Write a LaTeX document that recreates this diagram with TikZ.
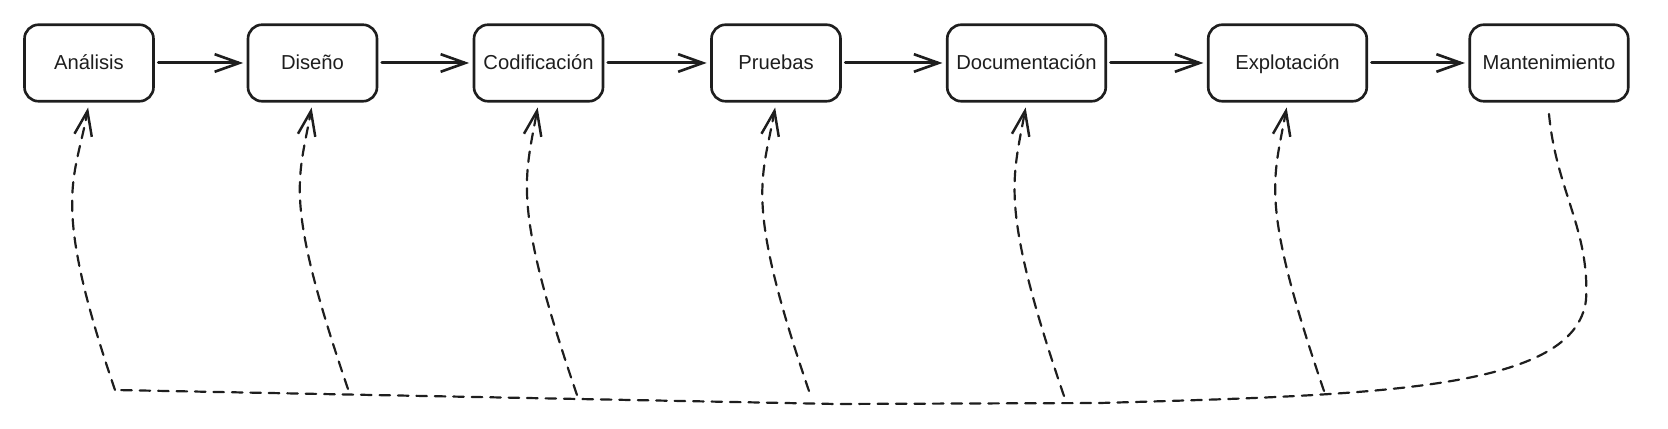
\documentclass[tikz,border=0pt]{standalone}
\usepackage{fontspec}
\setmainfont{Liberation Sans}
\usetikzlibrary{arrows.meta}
\definecolor{trazo}{HTML}{1E1E1E}

\tikzset{
  etapa/.style={draw=trazo, line width=1.5pt, rounded corners=8pt, minimum width=2.58cm,
    minimum height=1.53cm, inner sep=2pt, text height=1.9ex, text depth=0.5ex,
    font=\fontsize{11.5}{13}\selectfont, text=trazo},
  etapa ancha/.style={etapa, minimum width=3.17cm},
  flujo/.style={draw=trazo, line width=1.7pt, line cap=round,
    -{Straight Barb[length=14pt,width=10pt,line width=1.5pt]}, shorten <=2pt, shorten >=2pt},
  discontinua/.style={draw=trazo, line width=1.25pt, line cap=round, dash pattern=on 6pt off 4.5pt},
  retro/.style={discontinua,
    -{Straight Barb[length=14pt,width=10pt,line width=1.4pt]}, shorten >=0.1cm},
}

\begin{document}
\begin{tikzpicture}
\useasboundingbox (0,0) rectangle (33.36,8.58);

%etapas%%%%%%%%%%%%%%%%%%%%%%%%%%%%%%%%%%%%%%%%%%%%%%%%%%%%%%%%%%%%%%

\node[etapa] (ana) at (1.78,7.32) {Análisis};
\node[etapa] (dis) at (6.25,7.32) {Diseño};
\node[etapa] (cod) at (10.77,7.32) {Codificación};
\node[etapa] (pru) at (15.52,7.32) {Pruebas};
\node[etapa ancha] (doc) at (20.53,7.32) {Documentación};
\node[etapa ancha] (expl) at (25.75,7.32) {Explotación};
\node[etapa ancha] (man) at (30.98,7.32) {Mantenimiento};

\draw[flujo] (ana) -- (dis);
\draw[flujo] (dis) -- (cod);
\draw[flujo] (cod) -- (pru);
\draw[flujo] (pru) -- (doc);
\draw[flujo] (doc) -- (expl);
\draw[flujo] (expl) -- (man);

%retroalimentacion%%%%%%%%%%%%%%%%%%%%%%%%%%%%%%%%%%%%%%%%%%%%%%%%%%

\coordinate (m0) at (30.98,6.30); %bajo mantenimiento
\coordinate (b1) at (2.30,0.78);
\coordinate (b2) at (6.96,0.80);
\coordinate (b3) at (11.54,0.68);
\coordinate (b4) at (16.18,0.76);
\coordinate (b5) at (21.28,0.66);
\coordinate (b6) at (26.48,0.76);

\draw[discontinua]
  (m0) .. controls (31.12,4.78) and (31.80,3.98) .. (31.72,2.58)
       .. controls (31.50,0.78) and (27.60,0.68) .. (22.00,0.52)
       -- (16.72,0.50) -- (b1);

\draw[retro] (b1) .. controls +(-1.3,3.8) and +(-0.28,-1.56) .. (ana.south);
\draw[retro] (b2) .. controls +(-1.3,3.8) and +(-0.28,-1.56) .. (dis.south);
\draw[retro] (b3) .. controls +(-1.3,3.8) and +(-0.28,-1.56) .. (cod.south);
\draw[retro] (b4) .. controls +(-1.3,3.8) and +(-0.28,-1.56) .. (pru.south);
\draw[retro] (b5) .. controls +(-1.3,3.8) and +(-0.28,-1.56) .. (doc.south);
\draw[retro] (b6) .. controls +(-1.3,3.8) and +(-0.28,-1.56) .. (expl.south);

\end{tikzpicture}
\end{document}
